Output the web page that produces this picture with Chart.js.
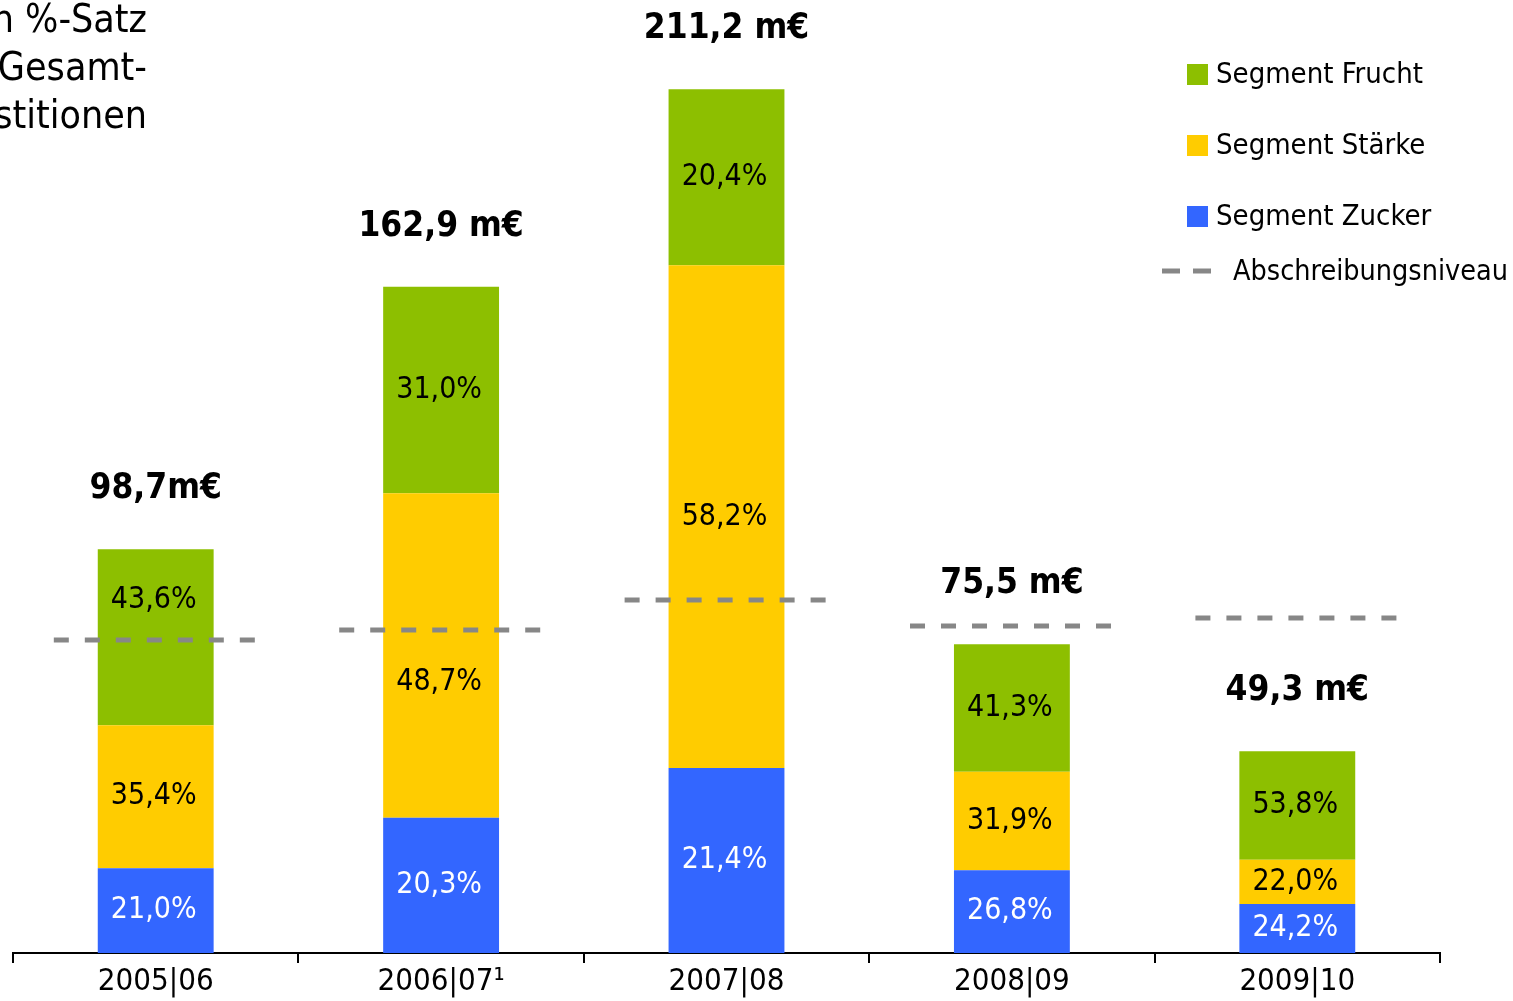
<!DOCTYPE html>
<html>
<head>
<meta charset="utf-8">
<script src="https://cdn.jsdelivr.net/npm/chart.js@4"></script>
<style>
  body { margin: 0; background: #fff; }
  #wrap { width: 1513px; height: 1001px; position: relative; }
</style>
</head>
<body>
<div id="wrap"><canvas id="myChart"></canvas></div>
<script>
// Data
const categories = ['2005|06', '2006|07¹', '2007|08', '2008|09', '2009|10'];
const totals = [98.7, 162.9, 211.2, 75.5, 49.3]; // m€
const totalLabels = ['98,7m€', '162,9 m€', '211,2 m€', '75,5 m€', '49,3 m€'];
const zuckerPct = [21.0, 20.3, 21.4, 26.8, 24.2];
const staerkePct = [35.4, 48.7, 58.2, 31.9, 22.0];
const fruchtPct = [43.6, 31.0, 20.4, 41.3, 53.8];
const abschreibung = [76.4, 79.0, 86.4, 80.0, 82.0]; // m€, estimated from dashed lines

const FONT = '"DejaVu Sans Condensed", "DejaVu Sans", sans-serif';
const GREEN = '#8dbf00';
const YELLOW = '#ffcc00';
const BLUE = '#3366ff';
const GREY = '#878787';

const toValues = pct => pct.map((p, i) => totals[i] * p / 100);
const fmtPct = p => p.toFixed(1).replace('.', ',') + '%';

// Draws dashed depreciation levels, labels, legend and side note
const overlayPlugin = {
    id: 'overlay',
    afterDatasetsDraw(chart) {
        const ctx = chart.ctx;
        const x = chart.scales.x, y = chart.scales.y;
        const half = x.width / categories.length * 0.357;

        // dashed depreciation level per year
        ctx.save();
        ctx.strokeStyle = GREY;
        ctx.lineWidth = 5;
        ctx.setLineDash([15, 16]);
        abschreibung.forEach((v, i) => {
            const cx = x.getPixelForValue(i);
            const py = Math.round(y.getPixelForValue(v));
            ctx.beginPath();
            ctx.moveTo(cx - half, py);
            ctx.lineTo(cx + half, py);
            ctx.stroke();
        });
        ctx.restore();

        // percentage labels inside segments
        ctx.save();
        ctx.textAlign = 'center';
        ctx.textBaseline = 'middle';
        ctx.font = '30px ' + FONT;
        const pcts = [zuckerPct, staerkePct, fruchtPct];
        chart.data.datasets.forEach((ds, d) => {
            const meta = chart.getDatasetMeta(d);
            meta.data.forEach((bar, i) => {
                let ly = (bar.y + bar.base) / 2;
                const dashY = y.getPixelForValue(abschreibung[i]);
                if (Math.abs(ly - dashY) < 42) {
                    ly = ly < dashY ? dashY - 40 : dashY + 52;
                }
                ctx.fillStyle = d === 0 ? '#ffffff' : '#000000';
                ctx.fillText(fmtPct(pcts[d][i]), bar.x - 2, ly);
            });
        });

        // totals above bars
        ctx.font = 'bold 35px ' + FONT;
        ctx.fillStyle = '#000';
        totals.forEach((t, i) => {
            ctx.fillText(totalLabels[i], x.getPixelForValue(i), y.getPixelForValue(t) - 60);
        });

        // legend
        ctx.textAlign = 'left';
        ctx.font = '29px ' + FONT;
        const legendItems = [
            { text: 'Segment Frucht', color: GREEN, y: 74 },
            { text: 'Segment Stärke', color: YELLOW, y: 145 },
            { text: 'Segment Zucker', color: BLUE, y: 216 }
        ];
        legendItems.forEach(item => {
            ctx.fillStyle = item.color;
            ctx.fillRect(1187, item.y - 10, 21, 21);
            ctx.fillStyle = '#000';
            ctx.fillText(item.text, 1216, item.y + 1);
        });
        ctx.strokeStyle = GREY;
        ctx.lineWidth = 5;
        ctx.setLineDash([18, 13]);
        ctx.beginPath();
        ctx.moveTo(1162, 271);
        ctx.lineTo(1211, 271);
        ctx.stroke();
        ctx.setLineDash([]);
        ctx.fillText('Abschreibungsniveau', 1233, 272, 275);

        // side note (cut off at the left edge like the original)
        ctx.textAlign = 'right';
        ctx.textBaseline = 'alphabetic';
        ctx.font = '39px ' + FONT;
        ['in %-Satz', 'der Gesamt-', 'investitionen'].forEach((s, k) => {
            ctx.fillText(s, 147, 32 + k * 48);
        });
        ctx.restore();
    }
};

const renderChart = () => {
    const ctx = document.getElementById('myChart').getContext('2d');
    new Chart(ctx, {
        type: 'bar',
        data: {
            labels: categories,
            datasets: [
                { label: 'Segment Zucker', data: toValues(zuckerPct), backgroundColor: BLUE },
                { label: 'Segment Stärke', data: toValues(staerkePct), backgroundColor: YELLOW },
                { label: 'Segment Frucht', data: toValues(fruchtPct), backgroundColor: GREEN }
            ]
        },
        options: {
            responsive: true,
            maintainAspectRatio: false,
            animation: false,
            barPercentage: 0.406,
            categoryPercentage: 1,
            layout: { padding: { left: 13, right: 73, top: 0, bottom: 0 } },
            plugins: {
                legend: { display: false },
                tooltip: { enabled: false }
            },
            scales: {
                x: {
                    stacked: true,
                    grid: {
                        drawOnChartArea: false,
                        drawTicks: true,
                        tickLength: 10,
                        color: '#000',
                        lineWidth: 2
                    },
                    border: { color: '#000', width: 2 },
                    ticks: {
                        color: '#000',
                        padding: 2,
                        font: { family: FONT, size: 31, lineHeight: 1.1 }
                    }
                },
                y: {
                    stacked: true,
                    display: false,
                    min: 0,
                    max: 233
                }
            }
        },
        plugins: [overlayPlugin]
    });
};

document.addEventListener('DOMContentLoaded', renderChart);
</script>
</body>
</html>
